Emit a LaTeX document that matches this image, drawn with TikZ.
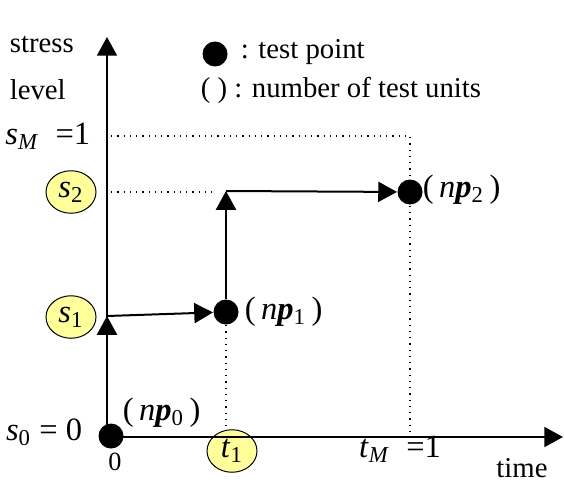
\documentclass[tikz,border=0pt]{standalone}
\usepackage{fontspec}
\setmainfont{Liberation Serif}
\usetikzlibrary{arrows.meta,shapes.geometric}
\definecolor{lightyellow}{rgb}{1, 1, 0.6}
\tikzstyle{testpt} = [circle, fill=black, minimum size=10pt, inner sep=0]
\tikzstyle{lvlmark} = [ellipse, draw=black, line width=0.4pt, fill=lightyellow, minimum width=20pt, minimum height=17pt, inner sep=0, font=\fontsize{13}{15}\selectfont]
\tikzstyle{flow} = [line width=0.8pt, -{Triangle[length=7.5pt,width=8pt]}]
\tikzstyle{guide} = [dotted, line width=0.5pt]

\begin{document}
\begin{tikzpicture}[x=0.4pt, y=-0.4pt, font=\fontsize{11.5}{13}\selectfont]
\useasboundingbox (0,0) rectangle (564,486);

    % Legend
    \node (legdot) at (215,54) [testpt] {};
    \node (legpt) at (232,52) [anchor=west] {: test point};
    \node (legnum) at (341,90) {( ) : number of test units};

    % Axis names
    \node (stress) at (1,45) [anchor=west] {stress};
    \node (level) at (1,90) [anchor=west] {level};
    \node (time) at (522,468) {time};

    % Reference points
    \coordinate (o) at (107,437);
    \coordinate (ytop) at (107,37);
    \coordinate (xend) at (563,437);
    \coordinate (c1) at (107,316);
    \coordinate (c2) at (226,191);
    \coordinate (mtop) at (111,136);
    \coordinate (mcorner) at (410,136);
    \coordinate (mfoot) at (410,437);
    \coordinate (s2a) at (111,192);
    \coordinate (s2b) at (215,192);

    % Test points
    \node (p0) at (111,436) [testpt] {};
    \node (p1) at (226,312) [testpt] {};
    \node (p2) at (410,192) [testpt] {};

    % Dotted guides
    \draw[guide] (mtop) -- (mcorner) -- (mfoot);
    \draw[guide] (s2a) -- (s2b);
    \draw[guide] (p1.south) -- (p1 |- o);

    % Stress levels and change time
    \node (s1) at (71,317) [lvlmark] {\textit{s}\textsubscript{1}};
    \node (s2) at (71,192) [lvlmark] {\textit{s}\textsubscript{2}};
    \node (t1) at (232,451) [lvlmark] {\textit{t}\textsubscript{1}};

    % Axes
    \draw[flow] (o) -- (ytop);
    \draw[flow] (o) -- (xend);

    % Step path
    \draw[flow] (o) -- (c1);
    \draw[flow] (c1) -- (p1);
    \draw[flow] (p1.north) -- (c2);
    \draw[flow] (c2) -- (p2);

    % Labels
    \node (zero) at (115,462) [font=\fontsize{10.5}{12}\selectfont] {0};
    \node (s0lab) at (91,432) [anchor=east, font=\fontsize{13}{15}\selectfont] {\textit{s}\textsubscript{0} = 0};
    \node (sMlab) at (99,136) [anchor=east, font=\fontsize{13}{15}\selectfont] {\textit{s}\textsubscript{\textit{M}}\enspace=1};
    \node (tMlab) at (400,449) [font=\fontsize{13}{15}\selectfont] {\textit{t}\textsubscript{\textit{M}}\enspace=1};
    \node (np0) at (114,413) [anchor=west, font=\fontsize{13}{15}\selectfont] {(\,\textit{n}\textbf{\textit{p}}\textsubscript{0}\,)};
    \node (np1) at (236,312) [anchor=west, font=\fontsize{13}{15}\selectfont] {(\,\textit{n}\textbf{\textit{p}}\textsubscript{1}\,)};
    \node (np2) at (414,190) [anchor=west, font=\fontsize{13}{15}\selectfont] {(\,\textit{n}\textbf{\textit{p}}\textsubscript{2}\,)};

\end{tikzpicture}
\end{document}
